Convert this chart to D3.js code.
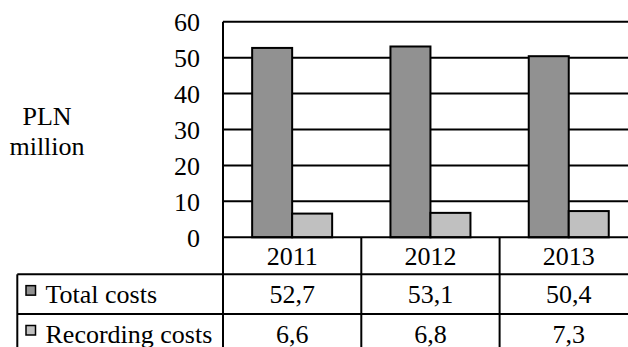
<!DOCTYPE html>
<html><head><meta charset="utf-8">
<script src="https://cdn.jsdelivr.net/npm/d3@7"></script>
<style>
html,body{margin:0;padding:0;background:#fff;overflow:hidden;}
svg{display:block;}
</style></head>
<body>
<svg id="chart" width="628" height="347"></svg>
<script>
const categories = ["2011", "2012", "2013"];
const seriesNames = ["Total costs", "Recording costs"];
const totalCosts = [52.7, 53.1, 50.4];
const recordingCosts = [6.6, 6.8, 7.3];
const yTicks = [0, 10, 20, 30, 40, 50, 60];
const yLabel = ["PLN", "million"];
const seriesColors = ["#919191", "#c0c0c0"];

(function () {
const series = [totalCosts, recordingCosts];
const svg = d3.select("#chart");
const FONT = "Liberation Serif";
const fs = 26;
const plotLeft = 223, colW = 138.3, plotTop = 21.7, plotBottom = 237.3;
const tableLeft = 17.3;
const rowH = [37, 39.7, 40];

const x0 = d3.scaleBand().domain(categories).range([plotLeft, plotLeft + colW * categories.length]).padding(0);
const x1 = d3.scaleBand().domain(d3.range(series.length)).range([29.15, colW - 29.15]).padding(0);
const y = d3.scaleLinear().domain([0, 60]).range([plotBottom, plotTop]);
const plotRight = plotLeft + colW * categories.length;

const locale = d3.formatLocale({decimal: ",", thousands: " ", grouping: [3], currency: ["", ""]});
const fmt = locale.format(".1f");

function txt(sel) { return sel.attr("font-family", FONT).attr("font-size", fs).attr("fill", "#000"); }

const grid = svg.append("g");
grid.selectAll("line").data(yTicks.filter(t => t > 0 && t < 60)).join("line")
  .attr("x1", plotLeft).attr("x2", plotRight)
  .attr("y1", d => y(d)).attr("y2", d => y(d))
  .attr("stroke", "#000").attr("stroke-width", 2);

const groups = svg.append("g").selectAll("g").data(categories).join("g")
  .attr("transform", d => `translate(${x0(d)},0)`);
groups.selectAll("rect").data((c, i) => series.map((s, k) => ({k, v: s[i]}))).join("rect")
  .attr("x", d => x1(d.k)).attr("width", x1.bandwidth())
  .attr("y", d => y(d.v)).attr("height", d => y(0) - y(d.v))
  .attr("fill", d => seriesColors[d.k]).attr("stroke", "#000").attr("stroke-width", 2);

svg.append("line").attr("x1", plotLeft).attr("x2", plotRight).attr("y1", y(60)).attr("y2", y(60))
  .attr("stroke", "#000").attr("stroke-width", 2);

const yAxis = d3.axisLeft(y).tickValues(yTicks).tickSize(0).tickPadding(23);
const ya = svg.append("g").attr("transform", `translate(${plotLeft},0)`).call(yAxis);
ya.attr("font-family", null).attr("font-size", null);
ya.select(".domain").remove();
txt(ya.selectAll("text")).attr("dy", "0.34em");

const yl = txt(svg.append("text")).attr("text-anchor", "middle");
yLabel.forEach((t, i) => yl.append("tspan").attr("x", 47).attr("y", 125 + i * 30).text(t));

const rowTops = [plotBottom, plotBottom + rowH[0], plotBottom + rowH[0] + rowH[1], plotBottom + rowH[0] + rowH[1] + rowH[2]];
const tl = svg.append("g").attr("stroke", "#000").attr("stroke-width", 2);
tl.append("line").attr("x1", plotLeft).attr("x2", plotRight).attr("y1", rowTops[0]).attr("y2", rowTops[0]);
[1, 2, 3].forEach(r => tl.append("line").attr("x1", tableLeft).attr("x2", plotRight).attr("y1", rowTops[r]).attr("y2", rowTops[r]));
tl.append("line").attr("x1", plotLeft).attr("x2", plotLeft).attr("y1", plotTop).attr("y2", rowTops[3]);
tl.append("line").attr("x1", plotRight).attr("x2", plotRight).attr("y1", plotTop).attr("y2", rowTops[3]);
tl.append("line").attr("x1", tableLeft).attr("x2", tableLeft).attr("y1", rowTops[1]).attr("y2", rowTops[3]);
categories.slice(1).forEach(c => tl.append("line").attr("x1", x0(c)).attr("x2", x0(c)).attr("y1", rowTops[0]).attr("y2", rowTops[3]));

txt(svg.append("g").selectAll("text").data(categories).join("text"))
  .attr("x", d => x0(d) + colW / 2).attr("y", (rowTops[0] + rowTops[1]) / 2)
  .attr("dy", "0.34em").attr("text-anchor", "middle").text(d => d);

series.forEach((s, k) => {
  const cy = (rowTops[k + 1] + rowTops[k + 2]) / 2;
  const g = svg.append("g");
  txt(g.selectAll("text.v").data(s).join("text").attr("class", "v"))
    .attr("x", (d, i) => x0(categories[i]) + colW / 2).attr("y", cy)
    .attr("dy", "0.34em").attr("text-anchor", "middle").text(d => fmt(d));
  g.append("rect").attr("x", 26).attr("y", cy - 8.5).attr("width", 9.5).attr("height", 9.5)
    .attr("fill", seriesColors[k]).attr("stroke", "#000").attr("stroke-width", 1.5);
  txt(g.append("text")).attr("x", 45.5).attr("y", cy).attr("dy", "0.34em").text(seriesNames[k]);
});
})();
</script>
</body></html>
